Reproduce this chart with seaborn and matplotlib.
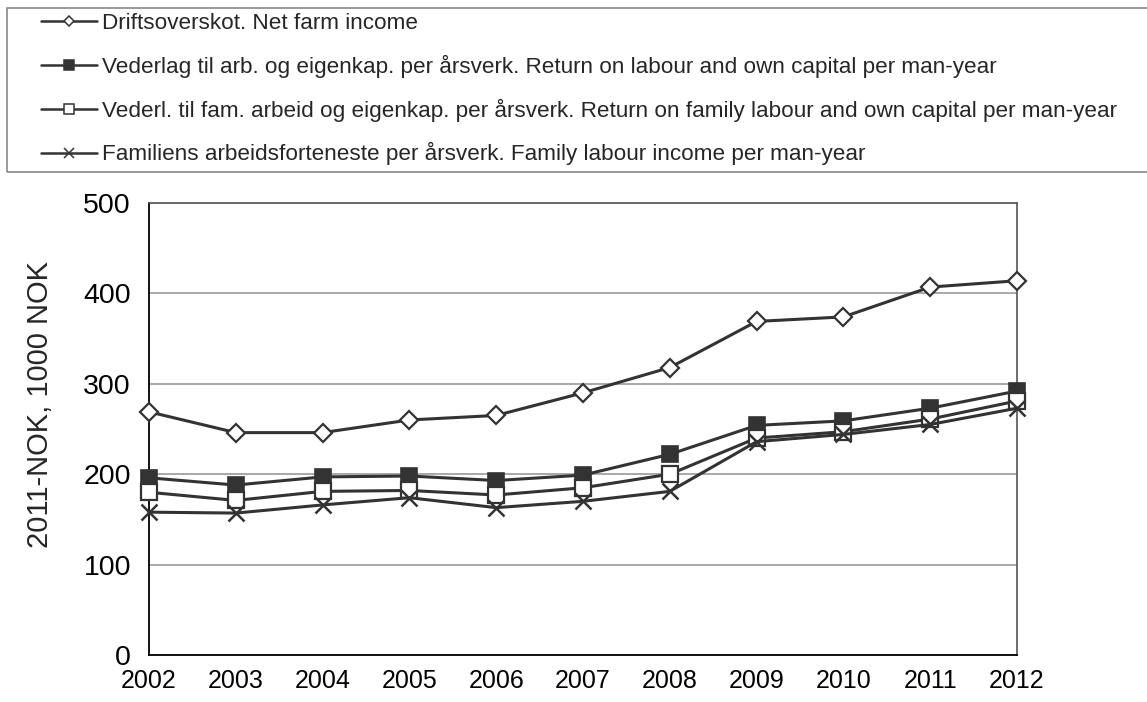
import matplotlib
matplotlib.use("Agg")
import matplotlib.pyplot as plt
import seaborn as sns
import pandas as pd
from matplotlib.lines import Line2D
from matplotlib.patches import Rectangle
from matplotlib import font_manager

years = [2002, 2003, 2004, 2005, 2006, 2007, 2008, 2009, 2010, 2011, 2012]
net_farm_income = [269, 246, 246, 260, 265, 290, 318, 369, 374, 407, 414]
return_labour_capital = [196, 188, 197, 198, 193, 199, 222, 254, 259, 273, 292]
return_family_labour_capital = [180, 171, 181, 182, 177, 185, 200, 240, 247, 261, 281]
family_labour_income = [158, 157, 166, 174, 163, 170, 181, 236, 244, 255, 273]

labels = [
    "Driftsoverskot. Net farm income",
    "Vederlag til arb. og eigenkap. per årsverk. Return on labour and own capital per man-year",
    "Vederl. til fam. arbeid og eigenkap. per årsverk. Return on family labour and own capital per man-year",
    "Familiens arbeidsforteneste per årsverk. Family labour income per man-year",
]
y_label = "2011-NOK, 1000 NOK"
y_ticks = [0, 100, 200, 300, 400, 500]

sns.set_theme(style="white")
plt.rcParams["font.family"] = ["Liberation Sans", "DejaVu Sans"]

installed = {f.name for f in font_manager.fontManager.ttflist}
narrow = "Liberation Sans Narrow" in installed

W, H = 1147, 702
fig = plt.figure(figsize=(W / 100, H / 100), dpi=100)
left, right, top, bottom = 149, 1017, 203, 655
ax = fig.add_axes([left / W, (H - bottom) / H, (right - left) / W, (bottom - top) / H])

line_c = "#333333"
series = [net_farm_income, return_labour_capital, return_family_labour_capital, family_labour_income]
styles = [
    dict(marker="D", markersize=9, markerfacecolor="white", markeredgecolor=line_c, markeredgewidth=1.6),
    dict(marker="s", markersize=11, markerfacecolor=line_c, markeredgecolor=line_c, markeredgewidth=1.2),
    dict(marker="s", markersize=11, markerfacecolor="white", markeredgecolor=line_c, markeredgewidth=1.6),
    dict(marker="x", markersize=11, markeredgecolor=line_c, markeredgewidth=1.8),
]

for vals, lab, st in zip(series, labels, styles):
    df = pd.DataFrame({"year": years, "value": vals})
    sns.lineplot(data=df, x="year", y="value", ax=ax, color=line_c, linewidth=2.2,
                 clip_on=False, zorder=3, legend=False, **st)

ax.set_xlim(years[0], years[-1])
ax.set_ylim(0, 500)
ax.set_xticks(years)
if narrow:
    ax.set_xticklabels([str(y) for y in years], fontsize=21, family=["Liberation Sans Narrow", "DejaVu Sans"])
else:
    ax.set_xticklabels([str(y) for y in years], fontsize=18)
ax.set_yticks(y_ticks)
ax.set_yticklabels([str(v) for v in y_ticks], fontsize=20.5)
ax.yaxis.grid(True, color="#9a9a9a", linewidth=1.2)
ax.xaxis.grid(False)
ax.set_axisbelow(True)
ax.set_xlabel("")
ax.set_ylabel(y_label, fontsize=21)
ax.yaxis.set_label_coords((54 - left) / (right - left), (bottom - 405) / (bottom - top))
ax.tick_params(axis="both", colors="black", length=7, width=1, direction="out")
ax.tick_params(axis="x", pad=3)
ax.tick_params(axis="y", pad=6)
for s in ["top", "right"]:
    ax.spines[s].set_color("#555555")
    ax.spines[s].set_linewidth(1.2)
for s in ["left", "bottom"]:
    ax.spines[s].set_color("black")
    ax.spines[s].set_linewidth(1.3)

handles = []
for st in styles:
    st2 = dict(st)
    st2["markersize"] = st2["markersize"] * 0.6
    st2["markeredgewidth"] = 1.1
    handles.append(Line2D([], [], color=line_c, linewidth=1.8, **st2))

leg = fig.legend(handles, labels, loc="upper left",
                 bbox_to_anchor=(32 / W, 1 - 4 / H), frameon=False,
                 fontsize=16.2, handlelength=2.5, handletextpad=0.2,
                 labelspacing=0.92, borderaxespad=0)
fig.add_artist(Rectangle((7 / W, 1 - 172 / H), (W + 20) / W, 164 / H,
                         transform=fig.transFigure, fill=False,
                         edgecolor="#888888", linewidth=1.2))

fig.savefig("out.png", dpi=100)
